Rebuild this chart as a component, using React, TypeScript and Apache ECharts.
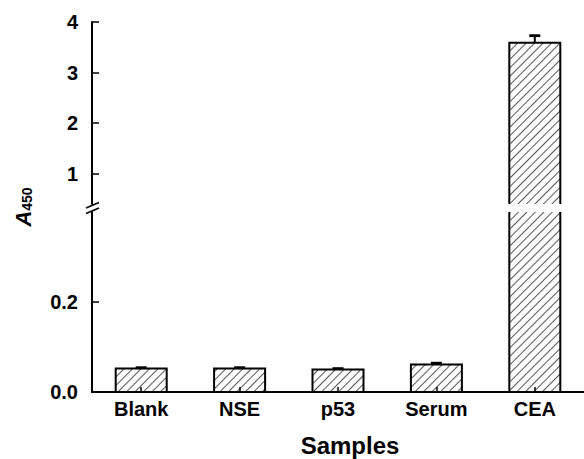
import React, { useEffect, useRef } from 'react';
import * as echarts from 'echarts';

const categories = ['Blank', 'NSE', 'p53', 'Serum', 'CEA'];
const values = [0.052, 0.052, 0.05, 0.061, 3.59];
const errors = [0.002, 0.002, 0.002, 0.003, 0.14];
const lowerTicks = [0, 0.2];
const upperTicks = [1, 2, 3, 4];
const lowerRange = [0, 0.4];
const upperRange = [0.4, 4];
const xTitle = 'Samples';

const FONT = '"Liberation Sans", Arial, Helvetica, sans-serif';
const BAR_W = 51;

export default function App() {
  const ref = useRef<HTMLDivElement>(null);
  useEffect(() => {
    if (!ref.current) return;
    const chart = echarts.init(ref.current, null, { renderer: 'svg' });
    const labelStyle = { color: '#000', fontSize: 20, fontWeight: 'bold' as const, fontFamily: FONT };
    const hatch = {
      symbol: 'rect',
      symbolSize: 1,
      dashArrayX: [1, 0],
      dashArrayY: [1, 5],
      rotation: -Math.PI / 4,
      color: '#555',
      backgroundColor: 'transparent',
    };
    const errData = categories.map((c, i) => [i, values[i], errors[i]]);
    const renderErr = (params: any, api: any) => {
      const i = api.value(0);
      const v = api.value(1);
      const e = api.value(2);
      const base = api.coord([i, v]);
      const top = api.coord([i, v + e]);
      const hw = 5.5;
      return {
        type: 'group',
        children: [
          { type: 'line', shape: { x1: base[0], y1: base[1], x2: top[0], y2: top[1] }, style: { stroke: '#000', lineWidth: 2 } },
          { type: 'line', shape: { x1: top[0] - hw, y1: top[1], x2: top[0] + hw, y2: top[1] }, style: { stroke: '#000', lineWidth: 2.8 } },
        ],
      };
    };
    const renderOutline = (params: any, api: any) => {
      const i = api.value(0);
      const v = api.value(1);
      const topPt = api.coord([i, v]);
      const basePt = api.coord([i, 0]);
      const half = BAR_W / 2;
      return {
        type: 'polyline',
        shape: {
          points: [
            [topPt[0] - half, basePt[1]],
            [topPt[0] - half, topPt[1]],
            [topPt[0] + half, topPt[1]],
            [topPt[0] + half, basePt[1]],
          ],
        },
        style: { stroke: '#000', lineWidth: 2, fill: null },
      };
    };
    const axisLine = { show: true, lineStyle: { color: '#000', width: 2 } };
    const barSeries = (idx: number) => ({
      type: 'bar',
      xAxisIndex: idx,
      yAxisIndex: idx,
      data: values,
      barWidth: BAR_W,
      clip: true,
      itemStyle: { color: '#fff', borderWidth: 0, decal: hatch },
    });
    const outlineSeries = (idx: number) => ({
      type: 'custom',
      xAxisIndex: idx,
      yAxisIndex: idx,
      data: errData,
      renderItem: renderOutline,
      clip: true,
      z: 4,
      encode: { x: 0, y: 1 },
    });
    const errSeries = (idx: number) => ({
      type: 'custom',
      xAxisIndex: idx,
      yAxisIndex: idx,
      data: errData,
      renderItem: renderErr,
      clip: true,
      z: 5,
      encode: { x: 0, y: 1 },
    });
    chart.setOption({
      animation: false,
      backgroundColor: '#fff',
      grid: [
        { left: 92, top: 22, width: 500, height: 182 },
        { left: 92, top: 212, width: 500, height: 180 },
      ],
      xAxis: [
        { type: 'category', gridIndex: 0, data: categories, show: false },
        {
          type: 'category',
          gridIndex: 1,
          data: categories,
          z: 10,
          axisLine,
          axisTick: { show: true, inside: true, alignWithLabel: true, length: 5, lineStyle: { color: '#000', width: 1.5 } },
          axisLabel: { ...labelStyle, margin: 7 },
        },
      ],
      yAxis: [
        {
          type: 'value',
          gridIndex: 0,
          min: upperRange[0],
          max: upperRange[1],
          splitLine: { show: false },
          axisLine,
          axisTick: { show: true, inside: true, length: 7, customValues: upperTicks, lineStyle: { color: '#000', width: 1.5 } },
          axisLabel: { ...labelStyle, margin: 14, customValues: upperTicks, formatter: (v: number) => String(v) },
        },
        {
          type: 'value',
          gridIndex: 1,
          min: lowerRange[0],
          max: lowerRange[1],
          splitLine: { show: false },
          axisLine,
          axisTick: { show: true, inside: true, length: 7, customValues: lowerTicks, lineStyle: { color: '#000', width: 1.5 } },
          axisLabel: { ...labelStyle, margin: 14, customValues: lowerTicks, formatter: (v: number) => v.toFixed(1) },
        },
      ],
      series: [barSeries(0), barSeries(1), outlineSeries(0), outlineSeries(1), errSeries(0), errSeries(1)],
      graphic: [
        { type: 'line', shape: { x1: 86, y1: 208, x2: 99, y2: 202.5 }, style: { stroke: '#000', lineWidth: 1.5 } },
        { type: 'line', shape: { x1: 86, y1: 213.5, x2: 99, y2: 208 }, style: { stroke: '#000', lineWidth: 1.5 } },
        {
          type: 'text',
          x: 350,
          y: 445,
          style: { text: xTitle, align: 'center', verticalAlign: 'middle', fill: '#000', font: `bold 24px ${FONT}` },
        },
        {
          type: 'text',
          x: 22,
          y: 207,
          rotation: Math.PI / 2,
          style: {
            text: '{a|A}{s|450}',
            align: 'center',
            verticalAlign: 'middle',
            fill: '#000',
            rich: {
              a: { fontSize: 22, fontStyle: 'italic', fontWeight: 'bold', fontFamily: FONT, lineHeight: 24, verticalAlign: 'bottom' },
              s: { fontSize: 14, fontWeight: 'bold', fontFamily: FONT, lineHeight: 10, verticalAlign: 'bottom' },
            },
          },
        },
      ],
    });
    return () => chart.dispose();
  }, []);
  return <div ref={ref} style={{ position: 'fixed', left: 0, top: 0, width: 584, height: 459 }} />;
}
